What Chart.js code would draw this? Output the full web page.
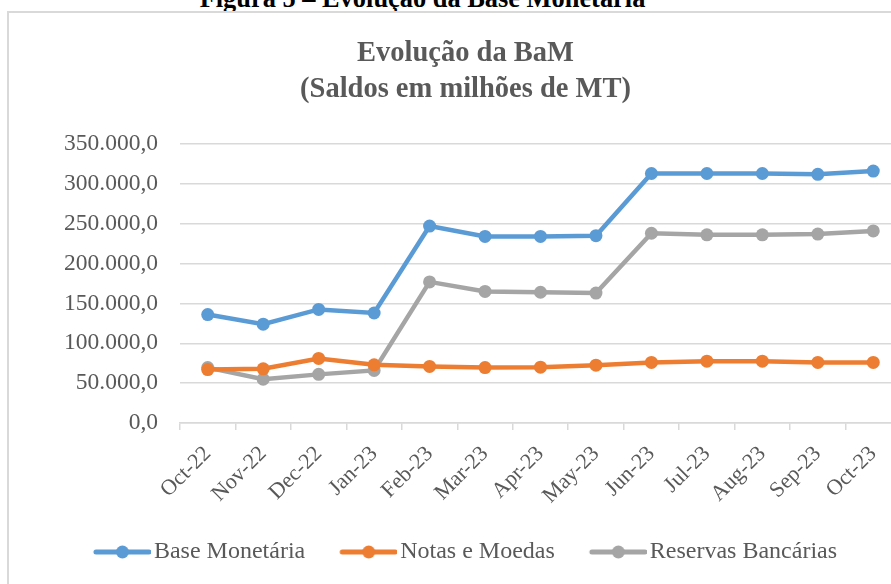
<!DOCTYPE html>
<html>
<head>
<meta charset="utf-8">
<script src="https://cdn.jsdelivr.net/npm/chart.js@4.4.0/dist/chart.umd.min.js"></script>
<style>
  body { margin: 0; width: 891px; height: 584px; overflow: hidden; background: #fff; position: relative; }
  #caption { position: absolute; left: 0; width: 845px; top: -15px; text-align: center;
    font: bold 26.4px/26px 'Liberation Serif', 'Times New Roman', serif; color: #000; }
  #frame { position: absolute; left: 7px; top: 11px; width: 1000px; height: 1000px; border: 2px solid #d9d9d9; }
  #wrap { position: absolute; left: 0; top: 0; }
</style>
</head>
<body>
<div id="caption">Figura 5 – Evolução da Base Monetária</div>
<div id="frame"></div>
<div id="wrap"><canvas id="chart" width="938" height="600"></canvas></div>
<script>
// Data (saldos em milhões de MT)
const months = ['Oct-22', 'Nov-22', 'Dec-22', 'Jan-23', 'Feb-23', 'Mar-23', 'Apr-23',
                'May-23', 'Jun-23', 'Jul-23', 'Aug-23', 'Sep-23', 'Oct-23'];
const baseMonetaria = [136000, 124000, 142500, 138000, 247000, 234000, 234000, 235000, 313000, 313000, 313000, 312000, 316000];
const notasMoedas = [67000, 68000, 81000, 73000, 71000, 69500, 70000, 72500, 76000, 77500, 77500, 76000, 76000];
const reservasBancarias = [69500, 55000, 61000, 66000, 177000, 165000, 164000, 163000, 238000, 236000, 236000, 237000, 241000];
const yTicks = [0, 50000, 100000, 150000, 200000, 250000, 300000, 350000];

const BLUE = '#5b9bd5', ORANGE = '#ed7d31', GRAY = '#a5a5a5';
const TEXT = '#595959', GRID = '#d9d9d9';
const SERIF = "'Liberation Serif', 'Times New Roman', serif";

// 350000 -> "350.000,0"
function fmt(v) {
    return v.toFixed(1).replace('.', ',').replace(/\B(?=(\d{3})+(?!\d))/g, '.');
}

// legend marker: line with a dot in the middle, like Excel
// (9px transparent on the left so the marker starts at the legend item edge)
function legendIcon(color) {
    const c = document.createElement('canvas');
    c.width = 66; c.height = 16;
    const g = c.getContext('2d');
    g.strokeStyle = color; g.lineWidth = 5; g.lineCap = 'round';
    g.beginPath(); g.moveTo(11, 8); g.lineTo(64, 8); g.stroke();
    g.fillStyle = color;
    g.beginPath(); g.arc(37.5, 8, 6.5, 0, Math.PI * 2); g.fill();
    return c;
}

function series(label, data, color) {
    return {
        label, data,
        borderColor: color, backgroundColor: color,
        borderWidth: 4.5, pointRadius: 6.5, pointHoverRadius: 6.5,
        pointBorderWidth: 0, tension: 0
    };
}

Chart.defaults.font.family = SERIF;
Chart.defaults.color = TEXT;

new Chart(document.getElementById('chart'), {
    type: 'line',
    data: {
        labels: months,
        datasets: [
            series('Base Monetária', baseMonetaria, BLUE),
            series('Notas e Moedas', notasMoedas, ORANGE),
            series('Reservas Bancárias', reservasBancarias, GRAY)
        ]
    },
    options: {
        responsive: false,
        animation: false,
        devicePixelRatio: 1,
        layout: { padding: { left: 30, right: 37, top: 17, bottom: 26 } },
        plugins: {
            title: {
                display: true,
                text: ['Evolução da BaM', '(Saldos em milhões de MT)'],
                color: TEXT,
                font: { family: SERIF, size: 28.5, weight: 'bold', lineHeight: 1.263 },
                padding: { top: 19, bottom: 36 }
            },
            legend: {
                position: 'bottom',
                labels: {
                    usePointStyle: true,
                    pointStyleWidth: 48,
                    padding: 35,
                    color: TEXT,
                    font: { family: SERIF, size: 24 },
                    generateLabels(chart) {
                        return chart.data.datasets.map((ds, i) => ({
                            text: ds.label,
                            pointStyle: legendIcon(ds.borderColor),
                            fillStyle: ds.borderColor,
                            strokeStyle: ds.borderColor,
                            lineWidth: 0,
                            fontColor: TEXT,
                            hidden: false,
                            datasetIndex: i
                        }));
                    }
                }
            },
            tooltip: { enabled: false }
        },
        scales: {
            x: {
                offset: true,
                afterFit(scale) { scale.height = 82; },
                grid: { offset: true, drawOnChartArea: false, drawTicks: true, tickLength: 7, color: GRID, lineWidth: 1.5 },
                border: { display: true, color: GRID, width: 1.5 },
                ticks: { minRotation: 45, maxRotation: 45, autoSkip: false, padding: 11, color: TEXT, font: { family: SERIF, size: 22 } }
            },
            y: {
                min: 0, max: 350000,
                afterFit(scale) { scale.width = 150; },
                afterBuildTicks(scale) { scale.ticks = yTicks.map(v => ({ value: v })); },
                grid: { drawTicks: false, color: GRID, lineWidth: 1.5 },
                border: { display: false },
                ticks: { padding: 22, color: TEXT, font: { family: SERIF, size: 23.5 }, callback: v => fmt(v) }
            }
        }
    }
});
</script>
</body>
</html>
